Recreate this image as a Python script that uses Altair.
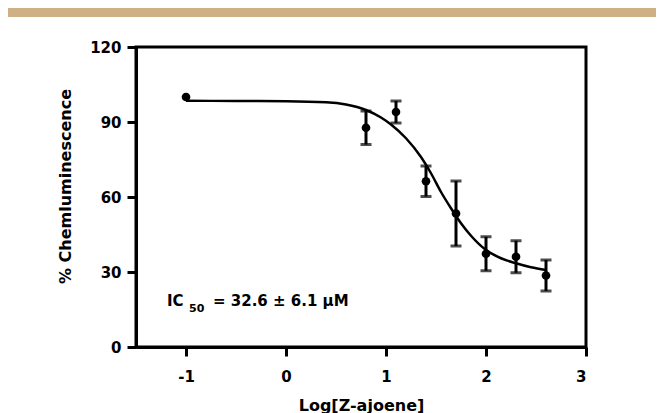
import altair as alt
import pandas as pd

# ---- data ----
log_conc = [-1.0, 0.8, 1.1, 1.4, 1.7, 2.0, 2.3, 2.6]
chemi_mean = [100.0, 87.7, 94.0, 66.3, 53.4, 37.3, 36.1, 28.6]
chemi_sem = [0.0, 6.7, 4.4, 6.1, 13.0, 6.8, 6.4, 6.2]

fit_x = [-1.0, -0.5, 0.0, 0.4, 0.6, 0.8, 0.95, 1.05, 1.2, 1.35, 1.45,
         1.55, 1.65, 1.75, 1.85, 2.0, 2.15, 2.3, 2.45, 2.6]
fit_y = [98.5, 98.4, 98.3, 97.9, 97.0, 94.8, 91.8, 89.0, 83.5, 76.0, 69.5,
         62.0, 55.5, 49.5, 44.5, 38.8, 35.5, 33.5, 31.9, 30.8]

x_ticks = [-1, 0, 1, 2, 3]
y_ticks = [0, 30, 60, 90, 120]

ann_text = ["IC", "50", "= 32.6 ± 6.1 μM"]
ann_x = [-1.19, -0.97, -0.73]
ann_y = [16.4, 14.1, 16.4]
ann_size = [15, 11, 15]

x_title = "Log[Z-ajoene]"
y_title = "% Chemluminescence"

FONT = "DejaVu Sans"
TAN = "#CFAF84"

pts = pd.DataFrame({"x": log_conc, "y": chemi_mean, "sem": chemi_sem})
fit = pd.DataFrame({"x": fit_x, "y": fit_y})
ann = pd.DataFrame({"x": ann_x, "y": ann_y, "t": ann_text, "s": ann_size})

xscale = alt.Scale(domain=[-1.5, 3], nice=False, zero=False)
yscale = alt.Scale(domain=[0, 120], nice=False)

xaxis = alt.Axis(values=x_ticks, title=x_title, labelPadding=13,
                 labelExpr="replace(datum.label, '\u2212', '-')",
                 titleY=63, titleBaseline="alphabetic", titleFontSize=16)
yaxis = alt.Axis(values=y_ticks, title=y_title, labelPadding=6,
                 titleX=-66, titleY=139, titleAngle=-90,
                 titleBaseline="alphabetic", titleAlign="center", titleFontSize=16)


def X(field="x"):
    return alt.X(f"{field}:Q", scale=xscale, axis=xaxis)


def Y(field="y"):
    return alt.Y(f"{field}:Q", scale=yscale, axis=yaxis)


band = alt.Chart(pd.DataFrame({"a": [0]})).mark_rect(color=TAN).encode(
    x=alt.value(-128), x2=alt.value(522), y=alt.value(-39), y2=alt.value(-30)
)

curve = alt.Chart(fit).mark_line(color="black", strokeWidth=2.5,
                                 interpolate="monotone").encode(x=X(), y=Y())

err_base = alt.Chart(pts).transform_filter("datum.sem > 0").transform_calculate(
    lo="datum.y - datum.sem", hi="datum.y + datum.sem"
)
err_rule = err_base.mark_rule(color="black", strokeWidth=3).encode(
    x=X(), y=Y("lo"), y2="hi:Q"
)
cap_hi = err_base.mark_tick(color="black", orient="horizontal", size=11, thickness=3).encode(
    x=X(), y=Y("hi")
)
cap_lo = err_base.mark_tick(color="black", orient="horizontal", size=11, thickness=3).encode(
    x=X(), y=Y("lo")
)

points = alt.Chart(pts).mark_point(filled=True, color="black", size=75, opacity=1).encode(
    x=X(), y=Y()
)

label = alt.Chart(ann).mark_text(
    align="left", baseline="alphabetic", font=FONT, fontWeight="bold", color="black"
).encode(x=X(), y=Y(), text="t:N", size=alt.Size("s:Q", scale=None, legend=None))

chart = alt.layer(band, curve, err_rule, cap_hi, cap_lo, points, label).properties(
    width=450, height=300,
    autosize=alt.AutoSizeParams(type="none"),
    padding={"left": 128, "top": 39, "right": 70, "bottom": 66},
    background="white",
).configure_view(
    stroke="black", strokeWidth=3
).configure_axis(
    grid=False, domainColor="black", domainWidth=3, tickColor="black",
    tickWidth=3, tickSize=9, labelFont=FONT, labelFontWeight="bold",
    labelFontSize=15, labelColor="black", titleFont=FONT,
    titleFontWeight="bold", titleColor="black"
)

chart.save("out.html", embed_options={"renderer": "svg", "actions": False})
